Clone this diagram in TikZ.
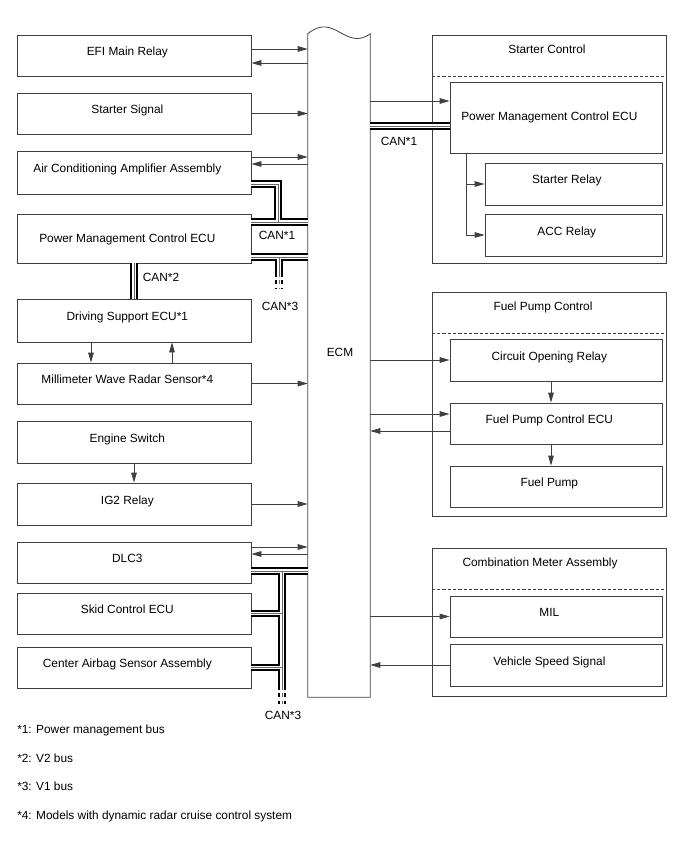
\documentclass[tikz,border=0pt]{standalone}
\usepackage{fontspec}
\setmainfont{Liberation Sans}
\usepackage{tikz}
\usetikzlibrary{arrows.meta}
\tikzset{
  box/.style={
    draw=black!75, line width=0.6pt, rectangle,
    minimum height=30.75pt, inner sep=0pt,
    text height=0pt, text depth=0pt,
    font=\fontsize{8.9pt}{10pt}\selectfont,
    execute at end node={\hspace*{10pt}}
  },
  lbox/.style={box, minimum width=175.5pt},
  rbox/.style={box, minimum width=159pt},
  sbox/.style={box, minimum width=132.75pt},
  grp/.style={draw=black!75, line width=0.6pt, rectangle,
    minimum width=175.5pt, inner sep=0pt},
  ttl/.style={anchor=base, inner sep=0pt, font=\fontsize{8.9pt}{10pt}\selectfont},
  note/.style={anchor=base west, inner sep=0pt, font=\fontsize{8.9pt}{10pt}\selectfont},
  ecmbody/.style={rectangle, inner sep=0pt, minimum width=46.5pt, minimum height=497.25pt},
  sig/.style={-{Triangle[length=7.5pt, width=4.2pt]}, draw=black!75, line width=0.6pt},
  frame/.style={draw=black!75, line width=0.6pt},
  sepline/.style={draw=black!75, line width=0.6pt, dash pattern=on 2.5pt off 1.5pt},
  canbus/.style={draw=white, line width=2.5pt,
    preaction={draw=black, line width=5.3pt},
    postaction={draw=black!60, line width=0.6pt}},
  canstub/.style={draw=white, line width=2.5pt, dash pattern=on 3pt off 2.5pt,
    preaction={draw=black, line width=5.3pt, dash pattern=on 3pt off 2.5pt},
    postaction={draw=black!60, line width=0.6pt, dash pattern=on 3pt off 2.5pt}},
}
\begin{document}
\begin{tikzpicture}[x=0.75pt, y=-0.75pt]
  \useasboundingbox (0,0) rectangle (688,852);

  % ECM
  \node[ecmbody] (ecm) at (339,365.5) {};
  \draw[frame] (ecm.north west) .. controls +(27,-22) and +(-25,18) .. (ecm.north east)
    -- (ecm.south east) -- (ecm.south west) -- cycle;
  \node[ttl] (ecmlbl) at (340,356) {ECM};

  % left column
  \node[lbox] (efi) at (134,55.5) {EFI Main Relay};
  \node[lbox] (stsig) at (134,113.5) {Starter Signal};
  \node[lbox, minimum height=32.25pt] (acamp) at (134,172.5) {Air Conditioning Amplifier Assembly};
  \node[lbox, minimum height=36.75pt, text height=5.6pt] (pml) at (134,238.5) {Power Management Control ECU};
  \node[lbox, minimum height=32.25pt] (dsecu) at (134,320.5) {Driving Support ECU*1};
  \node[lbox] (mmw) at (134,383.5) {Millimeter Wave Radar Sensor*4};
  \node[lbox, minimum height=31.5pt] (engsw) at (134,442) {Engine Switch};
  \node[lbox, minimum height=31.5pt] (ig2) at (134,504) {IG2 Relay};
  \node[lbox] (dlc) at (134,562.5) {DLC3};
  \node[lbox] (skid) at (134,613.5) {Skid Control ECU};
  \node[lbox] (airbag) at (134,667.5) {Center Airbag Sensor Assembly};

  % right column
  \node[grp, minimum height=171pt] (stctl) at (549,149) {};
  \node[ttl] (stctlttl) at (547,54) {Starter Control};
  \draw[sepline] (stctl.west |- 0,76) -- (stctl.east |- 0,76);
  \node[rbox, minimum height=53.25pt, text height=5.2pt] (pmr) at (556,117.5) {Power Management Control ECU};
  \node[sbox, minimum height=31.5pt] (strel) at (573.5,184) {Starter Relay};
  \node[sbox, minimum height=31.5pt] (accrel) at (573.5,235) {ACC Relay};

  \node[grp, minimum height=168pt] (fpctl) at (549,404) {};
  \node[ttl] (fpctlttl) at (543,310) {Fuel Pump Control};
  \draw[sepline] (fpctl.west |- 0,333) -- (fpctl.east |- 0,333);
  \node[rbox, minimum height=31.5pt] (cor) at (556,360) {Circuit Opening Relay};
  \node[rbox] (fpecu) at (556,423.5) {Fuel Pump Control ECU};
  \node[rbox] (fpump) at (556,486.5) {Fuel Pump};

  \node[grp, minimum height=111pt] (cmeter) at (549,622) {};
  \node[ttl] (cmeterttl) at (540,566) {Combination Meter Assembly};
  \draw[sepline] (cmeter.west |- 0,589) -- (cmeter.east |- 0,589);
  \node[rbox] (mil) at (556,616.5) {MIL};
  \node[rbox, minimum height=31.5pt] (vss) at (556,665) {Vehicle Speed Signal};

  % CAN buses
  \coordinate (canA) at (278,222);
  \coordinate (canB) at (279,257);
  \coordinate (canBend) at (279,273);
  \coordinate (canBtip) at (279,288);
  \coordinate (canC) at (282,571);
  \coordinate (canCend) at (282,686);
  \coordinate (canCtip) at (282,704);
  \draw[canbus] (pml.east |- 0,222) -- (ecm.west |- 0,222)
    (acamp.east |- 0,184) -| (canA);
  \draw[canbus] (pml.east |- 0,257) -- (ecm.west |- 0,257)
    (canB) -- (canBend);
  \draw[canstub] (canBend) -- (canBtip);
  \draw[canbus] (pml.south) -- (dsecu.north);
  \draw[canbus] (ecm.east |- 0,126) -- (pmr.west |- 0,126);
  \draw[canbus] (dlc.east |- 0,571) -- (ecm.west |- 0,571)
    (canC) -- (canCend)
    (skid.east) -- (skid.east -| canC)
    (airbag.east) -- (airbag.east -| canC);
  \draw[canstub] (canCend) -- (canCtip);

  \node[ttl] (can1l) at (277,239) {CAN*1};
  \node[ttl] (can3u) at (280,310) {CAN*3};
  \node[ttl] (can2) at (161,281) {CAN*2};
  \node[ttl] (can1r) at (399,146) {CAN*1};
  \node[ttl] (can3l) at (283,719) {CAN*3};

  % signals, left
  \draw[sig] (efi.east |- 0,49) -- (ecm.west |- 0,49);
  \draw[sig] (ecm.west |- 0,63) -- (efi.east |- 0,63);
  \draw[sig] (stsig.east) -- (stsig.east -| ecm.west);
  \draw[sig] (acamp.east |- 0,157) -- (ecm.west |- 0,157);
  \draw[sig] (ecm.west |- 0,164) -- (acamp.east |- 0,164);
  \draw[sig] (dsecu.south -| 91,0) -- (mmw.north -| 91,0);
  \draw[sig] (mmw.north -| 172,0) -- (dsecu.south -| 172,0);
  \draw[sig] (mmw.east) -- (mmw.east -| ecm.west);
  \draw[sig] (engsw.south) -- (ig2.north);
  \draw[sig] (ig2.east) -- (ig2.east -| ecm.west);
  \draw[sig] (dlc.east |- 0,547) -- (ecm.west |- 0,547);
  \draw[sig] (ecm.west |- 0,554) -- (dlc.east |- 0,554);

  % signals, right
  \draw[sig] (ecm.east |- 0,101) -- (pmr.west |- 0,101);
  \draw[sig] (pmr.south -| 466,0) |- (strel.west);
  \draw[sig] (pmr.south -| 466,0) |- (accrel.west);
  \draw[sig] (cor.west -| ecm.east) -- (cor.west);
  \draw[sig] (cor.south -| 551,0) -- (fpecu.north -| 551,0);
  \draw[sig] (ecm.east |- 0,414) -- (fpecu.west |- 0,414);
  \draw[sig] (fpecu.west |- 0,431) -- (ecm.east |- 0,431);
  \draw[sig] (fpecu.south -| 551,0) -- (fpump.north -| 551,0);
  \draw[sig] (mil.west -| ecm.east) -- (mil.west);
  \draw[sig] (vss.west) -- (vss.west -| ecm.east);

  % notes
  \node[note] (n1) at (17,733) {*1: Power management bus};
  \node[note] (n2) at (17,762) {*2: V2 bus};
  \node[note] (n3) at (17,790) {*3: V1 bus};
  \node[note] (n4) at (17,819) {*4: Models with dynamic radar cruise control system};
\end{tikzpicture}
\end{document}
